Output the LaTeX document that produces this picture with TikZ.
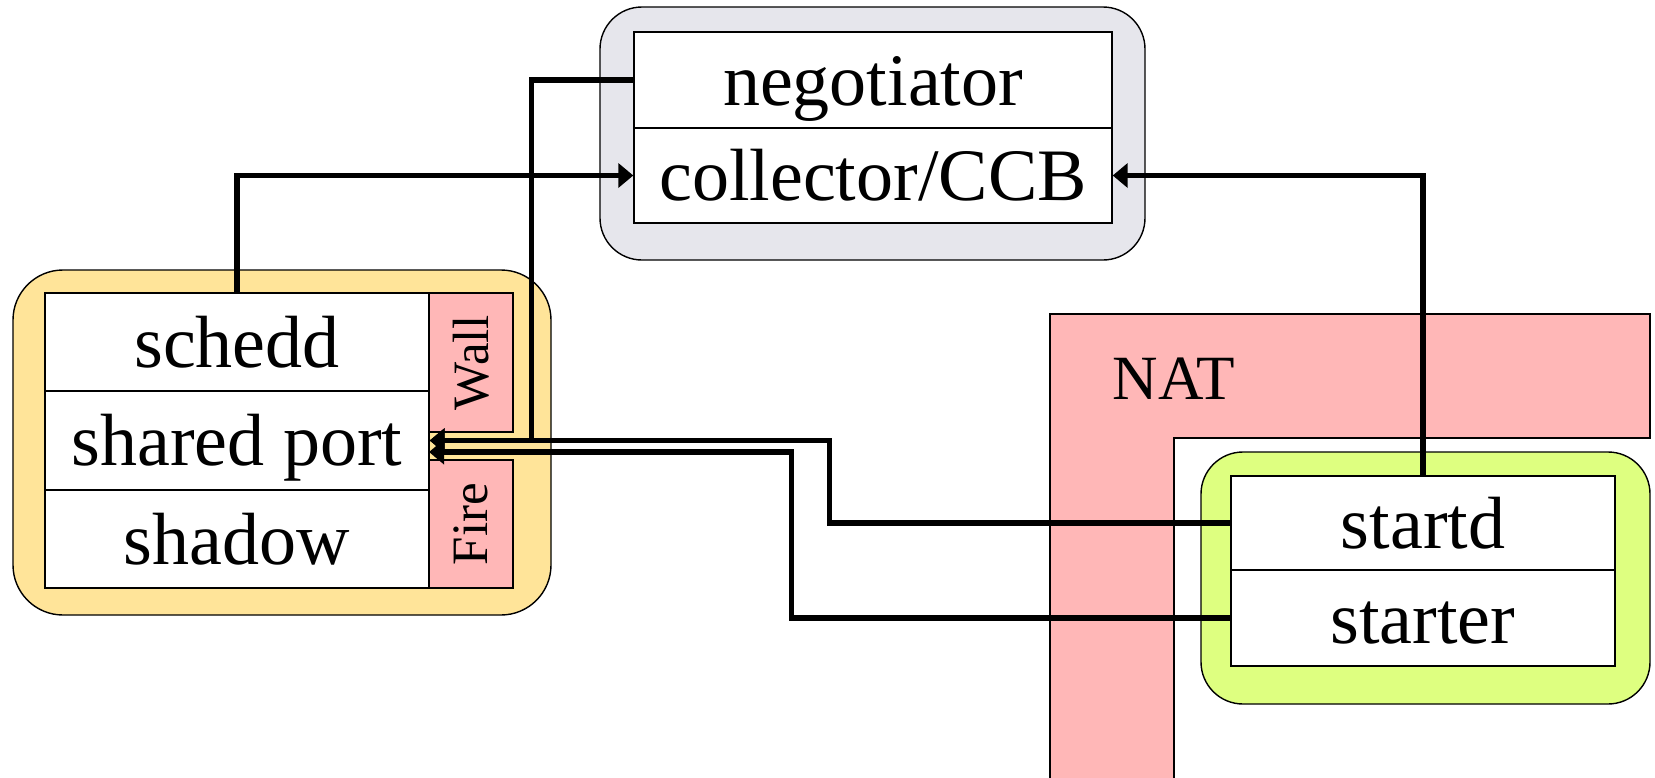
\documentclass[tikz,border=0pt]{standalone}
\usepackage{fontspec}
\setmainfont{Liberation Serif}
\usetikzlibrary{arrows.meta}

\definecolor{cmgray}{RGB}{230,230,236}
\definecolor{submitbg}{RGB}{255,228,153}
\definecolor{execbg}{RGB}{222,255,128}
\definecolor{fwpink}{RGB}{255,183,183}

\tikzset{
  host/.style={draw, line width=1.4pt, rounded corners=42pt, inner sep=0pt},
  daemon/.style={draw, fill=white, line width=1.4pt, inner sep=0pt,
    minimum width=384pt, text height=50pt, text depth=0pt,
    font=\fontsize{74}{80}\selectfont},
  fwbox/.style={draw, fill=fwpink, line width=1.2pt, inner sep=0pt, rotate=90,
    minimum height=84pt, font=\fontsize{51}{56}\selectfont},
  conn/.style={line width=5.2pt, -{Triangle[length=15pt,width=24pt]}}
}

\begin{document}
\begin{tikzpicture}[x=1pt,y=-1pt]
        \useasboundingbox (0,0) rectangle (1655,777);

        % NAT
        \filldraw[fill=fwpink, line width=1.4pt] (1050,800) -- (1050,314) -- (1650,314)
            -- (1650,438) -- (1174,438) -- (1174,800);
        \node[font=\fontsize{63}{70}\selectfont] (nat) at (1174,379) {NAT};

        % central manager
        \node[host, fill=cmgray, minimum width=545pt, minimum height=253pt] (cm) at (872.5,133.5) {};
        \node[daemon, minimum width=478pt, minimum height=96pt] (neg) at (873,80) {negotiator};
        \node[daemon, minimum width=478pt, minimum height=95pt] (coll) at (873,175.5) {collector/CCB};

        % submit side
        \node[host, fill=submitbg, rounded corners=50pt, minimum width=538pt, minimum height=345pt] (sub) at (282,442.5) {};
        \node[daemon, minimum height=98pt] (schedd) at (237,342) {schedd};
        \node[daemon, minimum height=99pt] (shared) at (237,440.5) {shared port};
        \node[daemon, minimum height=98pt] (shadow) at (237,539) {shadow};
        \node[fwbox, minimum width=139pt] (wall) at (471,362.5) {Wall};
        \node[fwbox, minimum width=128pt] (fire) at (471,524) {Fire};
        \coordinate (sp2) at (429,452);

        % execute side
        \node[host, fill=execbg, minimum width=449pt, minimum height=252pt] (ex) at (1425.5,578) {};
        \node[daemon, minimum height=94pt] (startd) at (1423,523) {startd};
        \node[daemon, minimum height=96pt] (starter) at (1423,618) {starter};

        \draw[conn] (schedd.north) |- (coll.west);
        \draw[conn] (startd.north) |- (coll.east);
        \draw[conn] (neg.west) -- ++(-102,0) |- (shared.east);
        \draw[conn] (startd.west) -- ++(-401,0) |- (shared.east);
        \draw[conn] (starter.west) -- ++(-439,0) |- (sp2);
\end{tikzpicture}
\end{document}
